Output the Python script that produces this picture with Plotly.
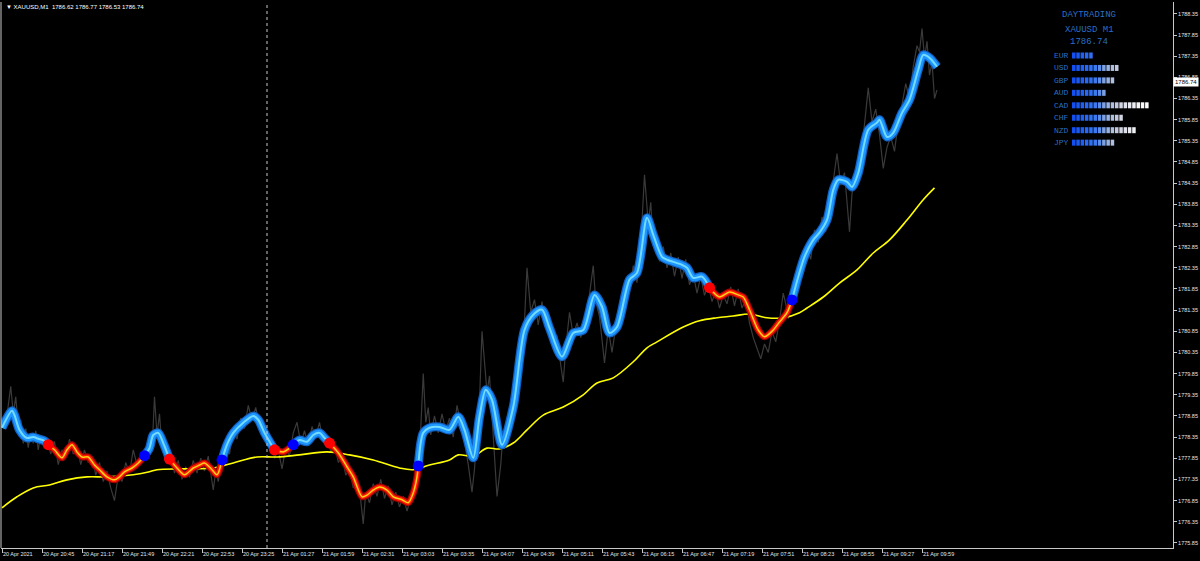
import plotly.graph_objects as go

# ---------------- data ----------------
# x axis = M1 bar index; a time label every 32 bars
tick_idx = list(range(0, 737, 32))
tick_text = ["20 Apr 2021", "20 Apr 20:45", "20 Apr 21:17", "20 Apr 21:49", "20 Apr 22:21",
             "20 Apr 22:53", "20 Apr 23:25", "21 Apr 01:27", "21 Apr 01:59", "21 Apr 02:31",
             "21 Apr 03:03", "21 Apr 03:35", "21 Apr 04:07", "21 Apr 04:39", "21 Apr 05:11",
             "21 Apr 05:43", "21 Apr 06:15", "21 Apr 06:47", "21 Apr 07:19", "21 Apr 07:51",
             "21 Apr 08:23", "21 Apr 08:55", "21 Apr 09:27", "21 Apr 09:59"]

price_ticks = [round(1775.85 + 0.5 * i, 2) for i in range(26)]

# smoothed trend line (blue = up, red = down)
smooth_x = [0, 8, 10, 14, 20, 25, 29, 34, 37, 42, 48, 52, 56, 60, 64, 69, 74, 78, 84, 90, 94, 98,
            104, 109, 114, 118, 121, 125, 129, 134, 140, 146, 153, 158, 162, 168, 172, 176, 180,
            185, 193, 201, 205, 210, 218, 225, 230, 233, 238, 244, 249, 254, 258, 262, 269, 276,
            281, 288, 292, 297, 302, 308, 313, 320, 325, 329, 332, 333, 337, 342, 350, 358, 365,
            370, 377, 382, 387, 392, 400, 409, 418, 425, 432, 438, 448, 457, 465, 474, 480, 486,
            492, 502, 508, 516, 521, 528, 532, 537, 544, 548, 553, 560, 566, 574, 582, 589, 593,
            598, 605, 610, 617, 622, 628, 632, 637, 642, 649, 654, 660, 665, 669, 676, 680, 685,
            693, 700, 702, 708, 713, 720, 726, 733, 737, 742, 748]
smooth_y = [1778.57, 1778.97, 1778.87, 1778.52, 1778.33, 1778.35, 1778.31, 1778.26, 1778.17,
            1778.05, 1777.86, 1778.05, 1778.17, 1778.00, 1777.88, 1777.88, 1777.69, 1777.58,
            1777.41, 1777.34, 1777.41, 1777.53, 1777.62, 1777.74, 1777.91, 1778.09, 1778.40,
            1778.45, 1778.21, 1777.83, 1777.62, 1777.46, 1777.62, 1777.69, 1777.74, 1777.58,
            1777.46, 1777.81, 1778.17, 1778.45, 1778.69, 1778.85, 1778.76, 1778.45, 1778.05,
            1778.00, 1778.09, 1778.17, 1778.28, 1778.24, 1778.40, 1778.45, 1778.33, 1778.21,
            1777.98, 1777.65, 1777.41, 1776.94, 1776.98, 1777.10, 1777.17, 1777.10, 1776.94,
            1776.87, 1776.80, 1777.03, 1777.41, 1777.67, 1778.45, 1778.57, 1778.59, 1778.52,
            1778.83, 1778.52, 1777.86, 1778.83, 1779.47, 1779.23, 1778.17, 1779.06, 1780.88,
            1781.24, 1781.36, 1780.93, 1780.25, 1780.81, 1780.88, 1781.71, 1781.43, 1780.81,
            1780.95, 1782.07, 1782.23, 1783.53, 1783.13, 1782.61, 1782.54, 1782.49, 1782.42,
            1782.35, 1782.11, 1782.14, 1781.88, 1781.66, 1781.78, 1781.71, 1781.66, 1781.36,
            1780.88, 1780.72, 1780.88, 1781.07, 1781.29, 1781.59, 1782.14, 1782.61, 1783.01,
            1783.18, 1783.48, 1784.19, 1784.43, 1784.38, 1784.26, 1784.59, 1785.61, 1785.78,
            1785.85, 1785.44, 1785.54, 1786.01, 1786.32, 1787.03, 1787.38, 1787.31, 1787.10]
# bars where the trend flips (first segment is up)
flip_x = [37, 114, 134, 176, 218, 233, 262, 333, 566, 632]

# slow moving average (yellow)
ma_x = [0, 12, 25, 38, 52, 68, 84, 105, 118, 124, 145, 169, 185, 204, 220, 238, 260, 278, 297,
        318, 329, 342, 358, 365, 377, 388, 398, 409, 420, 433, 449, 465, 476, 489, 505, 516, 524,
        545, 558, 572, 585, 598, 612, 625, 638, 644, 657, 670, 684, 697, 710, 724, 737, 746]
ma_y = [1776.68, 1776.94, 1777.15, 1777.22, 1777.34, 1777.41, 1777.41, 1777.46, 1777.53, 1777.58,
        1777.60, 1777.62, 1777.74, 1777.88, 1777.88, 1777.93, 1778.00, 1777.93, 1777.81, 1777.62,
        1777.58, 1777.69, 1777.81, 1777.93, 1777.90, 1778.09, 1778.07, 1778.21, 1778.52, 1778.87,
        1779.06, 1779.35, 1779.63, 1779.75, 1780.13, 1780.46, 1780.60, 1780.95, 1781.10, 1781.17,
        1781.21, 1781.26, 1781.17, 1781.17, 1781.29, 1781.40, 1781.66, 1781.99, 1782.30, 1782.70,
        1783.01, 1783.48, 1783.96, 1784.24]

# raw M1 close (dim gray)
close_x = [0, 3, 5, 7, 9, 11, 13, 15, 17, 19, 21, 23, 25, 27, 29, 31, 33, 36, 39, 42, 45, 48, 51,
           54, 57, 60, 63, 66, 69, 72, 75, 78, 81, 84, 87, 90, 93, 96, 99, 102, 105, 108, 111, 114,
           117, 120, 122, 124, 126, 128, 130, 132, 135, 138, 141, 144, 147, 150, 153, 156, 159,
           162, 165, 169, 171, 173, 176, 179, 182, 185, 188, 191, 194, 197, 200, 203, 206, 209,
           212, 215, 218, 221, 224, 227, 230, 233, 236, 239, 242, 245, 248, 251, 254, 257, 260,
           263, 266, 269, 272, 275, 278, 281, 284, 287, 289, 291, 294, 297, 300, 303, 306, 309,
           312, 315, 318, 321, 324, 327, 330, 333, 335, 337, 339, 341, 343, 346, 349, 352, 355,
           358, 361, 364, 367, 370, 373, 376, 378, 380, 382, 384, 388, 390, 392, 394, 396, 399,
           401, 404, 407, 410, 413, 416, 418, 420, 423, 426, 429, 432, 435, 438, 441, 444, 447,
           449, 451, 454, 457, 460, 463, 466, 469, 473, 475, 478, 482, 485, 488, 490, 493, 496,
           499, 502, 505, 508, 511, 514, 517, 519, 521, 523, 526, 529, 532, 535, 538, 541, 544,
           547, 550, 553, 556, 559, 562, 565, 568, 571, 574, 577, 580, 583, 586, 589, 592, 595,
           598, 601, 604, 607, 610, 613, 616, 619, 622, 625, 627, 629, 632, 635, 638, 641, 644,
           647, 650, 653, 656, 659, 662, 665, 668, 671, 674, 678, 680, 683, 686, 689, 693, 696,
           699, 702, 705, 708, 711, 714, 717, 720, 723, 726, 729, 732, 734, 736, 738, 740, 742,
           744, 746, 748]
close_y = [1778.80, 1778.55, 1779.10, 1779.55, 1778.90, 1779.30, 1778.60, 1778.75, 1778.20,
           1778.55, 1778.10, 1778.45, 1778.20, 1778.50, 1778.05, 1778.40, 1778.15, 1778.30,
           1777.95, 1778.25, 1777.70, 1778.05, 1777.85, 1778.30, 1777.95, 1778.15, 1777.70,
           1778.05, 1777.75, 1777.90, 1777.45, 1777.75, 1777.30, 1777.55, 1777.15, 1776.85,
           1777.45, 1777.30, 1777.75, 1777.50, 1778.05, 1777.70, 1777.95, 1777.80, 1778.30,
           1778.00, 1779.30, 1778.40, 1778.90, 1778.10, 1778.35, 1777.75, 1777.95, 1777.50,
           1777.80, 1777.35, 1777.65, 1777.40, 1777.80, 1777.50, 1777.85, 1777.55, 1777.90,
           1777.10, 1777.55, 1777.30, 1777.85, 1778.20, 1777.95, 1778.55, 1778.30, 1778.80,
           1778.55, 1779.10, 1778.75, 1779.05, 1778.60, 1778.70, 1778.20, 1778.35, 1777.85,
           1778.05, 1777.60, 1778.10, 1777.90, 1778.45, 1778.70, 1778.20, 1778.50, 1778.15,
           1778.60, 1778.35, 1778.70, 1778.25, 1778.40, 1778.00, 1778.20, 1777.75, 1777.90,
           1777.45, 1777.60, 1777.15, 1777.30, 1776.85, 1776.30, 1777.05, 1776.80, 1777.25,
           1776.95, 1777.35, 1776.90, 1777.20, 1776.75, 1777.05, 1776.70, 1776.95, 1776.60,
           1776.90, 1777.25, 1777.80, 1778.55, 1779.85, 1778.70, 1779.05, 1778.40, 1778.85,
           1778.45, 1778.90, 1778.50, 1778.80, 1778.35, 1779.10, 1778.70, 1778.25, 1777.70,
           1777.05, 1777.60, 1778.40, 1779.20, 1780.85, 1779.40, 1779.80, 1778.90, 1778.10,
           1776.95, 1777.70, 1778.50, 1778.20, 1779.00, 1779.40, 1780.10, 1780.70, 1781.10,
           1782.35, 1781.30, 1781.60, 1781.00, 1781.55, 1780.95, 1781.20, 1780.50, 1780.75,
           1780.05, 1779.65, 1780.45, 1781.30, 1780.75, 1781.05, 1780.70, 1781.10, 1781.50,
           1782.40, 1781.55, 1781.20, 1780.10, 1780.90, 1780.35, 1780.75, 1781.15, 1781.55,
           1782.10, 1781.80, 1782.40, 1782.00, 1782.90, 1784.55, 1783.40, 1783.90, 1782.90,
           1783.20, 1782.50, 1782.85, 1782.35, 1782.70, 1782.15, 1782.60, 1782.10, 1782.55,
           1781.95, 1782.20, 1781.75, 1782.15, 1781.70, 1781.95, 1781.55, 1781.80, 1781.40,
           1781.70, 1781.50, 1781.90, 1781.45, 1781.85, 1781.40, 1781.60, 1781.05, 1780.70,
           1780.45, 1780.20, 1780.55, 1780.35, 1780.85, 1780.60, 1781.10, 1781.75, 1781.50,
           1781.15, 1781.55, 1782.05, 1782.45, 1782.20, 1782.85, 1782.55, 1783.25, 1782.95,
           1783.55, 1783.20, 1784.05, 1784.40, 1785.05, 1784.30, 1784.60, 1783.20, 1784.10,
           1784.55, 1784.90, 1785.45, 1786.60, 1785.80, 1786.10, 1785.50, 1784.70, 1785.20,
           1785.45, 1785.10, 1785.80, 1786.20, 1786.70, 1786.35, 1787.10, 1787.60, 1787.45,
           1788.00, 1787.30, 1787.70, 1786.90, 1787.20, 1786.35, 1786.55, 1786.74]

symbol = "XAUUSD,M1"
ohlc = [1786.62, 1786.77, 1786.53, 1786.74]
last_price = 1786.74
separator_bar = 212

currencies = ["EUR", "USD", "GBP", "AUD", "CAD", "CHF", "NZD", "JPY"]
strength = [5, 11, 10, 8, 18, 12, 15, 10]

# ---------------- layout geometry ----------------
W, H = 1200, 561
ML, MR, MT, MB = 1, 27, 2, 13
PW, PH = W - ML - MR, H - MT - MB
X_RANGE = [-0.8, 936.8]
Y_RANGE = [1775.73, 1788.63]


def px(x):
    return (x - ML) / PW


def py(y):
    return (H - MB - y) / PH


fig = go.Figure()

# raw close
fig.add_trace(go.Scatter(x=close_x, y=close_y, mode="lines",
                         line=dict(color="#3a3a3a", width=1.2), hoverinfo="skip"))
# moving average
fig.add_trace(go.Scatter(x=ma_x, y=ma_y, mode="lines", line_shape="spline",
                         line=dict(color="#ffff00", width=1.6), hoverinfo="skip"))

# trend segments
bounds = [smooth_x[0]] + flip_x + [smooth_x[-1]]
for k in range(len(bounds) - 1):
    a, b = bounds[k], bounds[k + 1]
    xs = [x for x in smooth_x if a <= x <= b]
    ys = [y for x, y in zip(smooth_x, smooth_y) if a <= x <= b]
    up = (k % 2 == 0)
    if up:
        layers = [("#1260c0", 9), ("#1e96ff", 6.5), ("#75dcff", 2)]
    else:
        layers = [("#a00000", 7), ("#ff1a00", 4.5), ("#ffd21a", 1.5)]
    for col, w in layers:
        fig.add_trace(go.Scatter(x=xs, y=ys, mode="lines", line_shape="spline",
                                 line=dict(color=col, width=w, smoothing=0.8),
                                 hoverinfo="skip"))

# flip dots
dot_x, dot_y, dot_c = [], [], []
for j, fx in enumerate(flip_x):
    dot_x.append(fx)
    dot_y.append(smooth_y[smooth_x.index(fx)])
    dot_c.append("#0000ff" if (j + 1) % 2 == 0 else "#ff0000")
fig.add_trace(go.Scatter(x=dot_x, y=dot_y, mode="markers",
                         marker=dict(color=dot_c, size=11, line=dict(width=0)),
                         hoverinfo="skip"))

shapes = []
# day separator
shapes.append(dict(type="line", xref="x", yref="paper", x0=separator_bar, x1=separator_bar,
                   y0=0, y1=1, line=dict(color="#c8c8c8", width=1, dash="dot")))
# left frame line
shapes.append(dict(type="line", xref="paper", yref="paper", x0=0, x1=0, y0=0, y1=1,
                   line=dict(color="#c8c8c8", width=1)))

annotations = []
annotations.append(dict(xref="paper", yref="paper", x=px(4), y=py(7), xanchor="left",
                        yanchor="middle", showarrow=False,
                        text="▼ " + symbol + "  " + " ".join(f"{v:.2f}" for v in ohlc),
                        font=dict(family="Liberation Sans", size=6, color="#ffffff")))
# last price label
annotations.append(dict(xref="paper", yref="y", x=1.0, y=last_price, xanchor="left",
                        yanchor="middle", showarrow=False, text=f"{last_price:.2f}",
                        bgcolor="#ffffff", borderpad=1,
                        font=dict(family="Liberation Sans", size=6, color="#000000")))

# info panel
panel_col = "#2a6fc4"
for txt, yy in [("DAYTRADING", 15), (symbol.replace(",", " "), 30), (f"{last_price:.2f}", 42)]:
    annotations.append(dict(xref="paper", yref="paper", x=px(1089), y=py(yy), xanchor="center",
                            yanchor="middle", showarrow=False, text=txt,
                            font=dict(family="Liberation Mono", size=9, color=panel_col)))

palette = ["#1450f0", "#1a58f2", "#205ff4", "#2868f4", "#3070f2", "#3c78ee", "#5a8ce8",
           "#7aa0e6", "#96b2e4", "#aebfe0", "#c2c9de", "#d2d6e2", "#dedfe8", "#e8e9ee",
           "#eeeff3", "#f4f4f6", "#f8f8fa", "#fcfcfc"]
for i, (cur, n) in enumerate(zip(currencies, strength)):
    yy = 55.5 + i * 12.45
    annotations.append(dict(xref="paper", yref="paper", x=px(1052), y=py(yy), xanchor="left",
                            yanchor="middle", showarrow=False, text=cur,
                            font=dict(family="Liberation Mono", size=8, color=panel_col)))
    for b in range(n):
        x0 = 1072 + b * 4.3
        shapes.append(dict(type="rect", xref="paper", yref="paper",
                           x0=px(x0), x1=px(x0 + 3.5), y0=py(yy + 3), y1=py(yy - 3),
                           fillcolor=palette[min(b, len(palette) - 1)], line=dict(width=0)))

axis_font = dict(family="Liberation Sans", size=5.5, color="#e6e6e6")
fig.update_layout(
    width=W, height=H,
    margin=dict(l=ML, r=MR, t=MT, b=MB, autoexpand=False),
    paper_bgcolor="#000000", plot_bgcolor="#000000",
    showlegend=False,
    shapes=shapes, annotations=annotations,
    xaxis=dict(range=X_RANGE, tickmode="array", tickvals=tick_idx, ticktext=tick_text,
               tickangle=0, ticks="outside", ticklen=4, tickcolor="#c8c8c8",
               ticklabelposition="outside right", ticklabelstandoff=0,
               tickfont=axis_font, showgrid=False, zeroline=False, showline=True,
               linecolor="#c8c8c8", linewidth=1, fixedrange=True),
    yaxis=dict(range=Y_RANGE, side="right", tickmode="array", tickvals=price_ticks,
               ticktext=[f"{v:.2f}" for v in price_ticks], ticks="outside", ticklen=3,
               tickcolor="#c8c8c8", tickfont=axis_font, showgrid=False, zeroline=False,
               showline=True, linecolor="#c8c8c8", linewidth=1, fixedrange=True),
)

fig.write_html("out.html", config={"displayModeBar": False},
               post_script="document.body.style.margin='0';document.body.style.background='#000';")
